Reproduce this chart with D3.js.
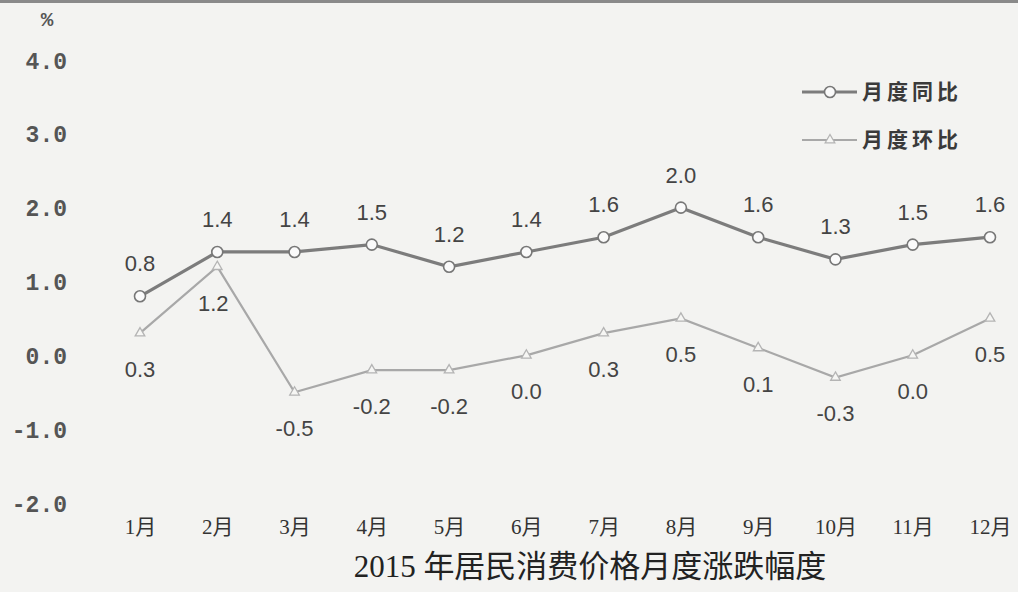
<!DOCTYPE html>
<html><head><meta charset="utf-8">
<script src="https://cdn.jsdelivr.net/npm/d3@7"></script>
<style>
html,body{margin:0;padding:0;background:#f3f3f1;}
svg{display:block;}
</style></head>
<body>
<script>
const months = ["1月","2月","3月","4月","5月","6月","7月","8月","9月","10月","11月","12月"];
const yoy = [0.8,1.4,1.4,1.5,1.2,1.4,1.6,2.0,1.6,1.3,1.5,1.6];
const mom = [0.3,1.2,-0.5,-0.2,-0.2,0.0,0.3,0.5,0.1,-0.3,0.0,0.5];
const yTicks = [4,3,2,1,0,-1,-2];
const seriesNames = ["月度同比","月度环比"];
const title = "2015 年居民消费价格月度涨跌幅度";

const W = 1018, H = 592;
const fmt = v => d3.format(".1f")(v).replace("\u2212", "-");
const svg = d3.select("body").append("svg").attr("width", W).attr("height", H);
svg.append("rect").attr("width", W).attr("height", H).attr("fill", "#f3f3f1");
svg.append("rect").attr("x",0).attr("y",0).attr("width",W).attr("height",3).attr("fill","#8a8a8a");

const x = d3.scalePoint().domain(months).range([140, 990]);
const y = d3.scaleLinear().domain([-2, 4]).range([503, 60]);

// Y axis labels
const yAxis = d3.axisLeft(y).tickValues(yTicks).tickFormat(fmt).tickSize(0).tickPadding(0);
const ga = svg.append("g").attr("transform", "translate(67,0)").call(yAxis);
ga.select(".domain").remove();
ga.selectAll("text").attr("font-family", "'Liberation Mono','DejaVu Sans Mono',monospace")
  .attr("font-size", 23).attr("font-weight", "bold").attr("fill", "#555").attr("dy","0.35em");
svg.append("text").attr("x", 47).attr("y", 19).attr("dy","0.35em").attr("text-anchor","middle")
  .attr("font-family","'Liberation Mono',monospace").attr("font-size",21).attr("font-weight","bold").attr("fill","#555").text("%");

// X axis labels
const xAxis = d3.axisBottom(x).tickSize(0).tickPadding(0);
const gx = svg.append("g").attr("transform", "translate(0,527)").call(xAxis);
gx.select(".domain").remove();
gx.selectAll("text").attr("font-family", "'Liberation Serif','Noto Sans CJK SC',serif")
  .attr("font-size", 21).attr("fill", "#333").attr("dy","0.35em");

// Lines
const line = d3.line().x((d,i)=>x(months[i])).y(d=>y(d));
svg.append("path").datum(mom).attr("d", line).attr("fill","none").attr("stroke","#a8a8a8").attr("stroke-width",2.2);
svg.append("path").datum(yoy).attr("d", line).attr("fill","none").attr("stroke","#7c7c7c").attr("stroke-width",3.2);

// markers
const tri = d3.symbol().type(d3.symbolTriangle).size(40);
svg.selectAll(".mm").data(mom).enter().append("path")
  .attr("transform",(d,i)=>`translate(${x(months[i])},${y(d)})`)
  .attr("d", tri).attr("fill","#f6f6f4").attr("stroke","#b4b4b4").attr("stroke-width",1.3);
svg.selectAll(".ym").data(yoy).enter().append("circle")
  .attr("cx",(d,i)=>x(months[i])).attr("cy",d=>y(d)).attr("r",5.5)
  .attr("fill","#fafafa").attr("stroke","#777").attr("stroke-width",1.6);

// data labels
const lblFont = "'Liberation Sans',Arial,sans-serif";
svg.selectAll(".yl").data(yoy).enter().append("text")
  .attr("x",(d,i)=>x(months[i])).attr("y",d=>y(d)-25).attr("text-anchor","middle")
  .attr("font-family",lblFont).attr("font-size",22).attr("fill","#444").text(fmt);
const momDx = [0,-4,0,0,0,0,0,0,0,0,0,0];
svg.selectAll(".ml").data(mom).enter().append("text")
  .attr("x",(d,i)=>x(months[i])+momDx[i]).attr("y",d=>y(d)+44).attr("text-anchor","middle")
  .attr("font-family",lblFont).attr("font-size",22).attr("fill","#444").text(fmt);

// legend
const leg = svg.append("g");
leg.append("line").attr("x1",802).attr("x2",857).attr("y1",92).attr("y2",92).attr("stroke","#7c7c7c").attr("stroke-width",3);
leg.append("circle").attr("cx",830).attr("cy",92).attr("r",5.5).attr("fill","#fafafa").attr("stroke","#777").attr("stroke-width",1.6);
leg.append("line").attr("x1",802).attr("x2",857).attr("y1",140).attr("y2",140).attr("stroke","#a8a8a8").attr("stroke-width",2);
leg.append("path").attr("transform","translate(830,140)").attr("d",tri).attr("fill","#f6f6f4").attr("stroke","#b4b4b4").attr("stroke-width",1.3);
leg.selectAll(".lt").data(seriesNames).enter().append("text")
  .attr("x",862).attr("y",(d,i)=>92+i*48).attr("dy","0.35em")
  .attr("font-family","'Noto Sans CJK SC',sans-serif").attr("font-size",21).attr("letter-spacing",4)
  .attr("font-weight","bold").attr("fill","#3a3a3a").text(d=>d);

// title
svg.append("text").attr("x",590).attr("y",577).attr("text-anchor","middle")
  .attr("font-family","'Liberation Serif','Noto Sans CJK SC',serif").attr("font-size",31).attr("fill","#222").text(title);
</script>
</body></html>
